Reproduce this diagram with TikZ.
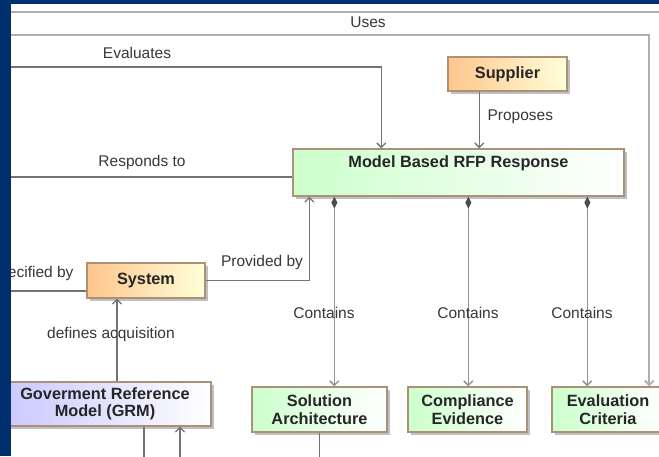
\documentclass[tikz,border=0pt]{standalone}
\usepackage{fontspec}
\setmainfont{Liberation Sans}
\usetikzlibrary{arrows.meta,shadows,positioning}

\definecolor{framenavy}{RGB}{0,48,110}
\definecolor{boxedge}{RGB}{170,145,120}
\definecolor{linegray}{RGB}{115,115,115}
\definecolor{lightline}{RGB}{175,175,175}
\definecolor{txtgray}{RGB}{55,55,60}

\tikzset{
  block/.style={draw=boxedge, line width=1.3pt, align=center, inner sep=2pt,
    text=black!85, font=\fontsize{16.3}{17.5}\selectfont\bfseries,
    drop shadow={shadow xshift=2.5pt, shadow yshift=-2.5pt, fill=black!35, opacity=0.7}},
  actorbox/.style={block, left color=orange!45, right color=yellow!15},
  greenbox/.style={block, left color=green!20, right color=white},
  bluebox/.style={block, left color=blue!22, right color=white},
  lbl/.style={text=txtgray, font=\fontsize{15.5}{18}\selectfont},
  plain/.style={draw=linegray, line width=1.3pt},
  conn/.style={plain, -{Straight Barb[length=4.5pt,width=9pt]}},
  comp/.style={draw=lightline!85!black, line width=1.5pt,
    {Diamond[length=12pt,width=6pt,fill=black!70,color=black!70]}-{Straight Barb[length=4.5pt,width=9pt]}},
}

\begin{document}
\begin{tikzpicture}[x=1pt,y=-1pt]
  \clip (0,0) rectangle (659,456);
  \fill[white] (0,0) rectangle (659,456);

  % blocks
  \node[actorbox, minimum width=119pt, minimum height=34pt] (supplier) at (507.5,74) {Supplier};
  \node[greenbox, minimum width=331pt, minimum height=47pt, inner ysep=3pt,
        text height=15.7pt, text depth=25.3pt] (rfp) at (458.5,172.5) {Model Based RFP Response};
  \node[actorbox, minimum width=118pt, minimum height=35pt] (system) at (146,280.5) {System};
  \node[bluebox, minimum width=212pt, minimum height=44pt] (grm) at (105,404) {Goverment Reference\\Model (GRM)};
  \node[greenbox, minimum width=135pt, minimum height=45pt] (solarch) at (319.5,409.5) {Solution\\Architecture};
  \node[greenbox, minimum width=119pt, minimum height=45pt] (compev) at (467.5,409.5) {Compliance\\Evidence};
  \node[greenbox, minimum width=112pt, minimum height=45pt] (evalcrit) at (608,409.5) {Evaluation\\Criteria};

  % loose ends outside the view
  \coordinate (topsrc) at (11,12);
  \coordinate (topend) at (659,12);
  \coordinate (usessrc) at (11,35);
  \coordinate (evalsrc) at (11,67);
  \coordinate (respsrc) at (11,177);
  \coordinate (specsrc) at (11,291);
  \coordinate (grmout) at (144,460);
  \coordinate (grmin) at (180,460);
  \coordinate (solout) at (319.5,460);

  % connectors
  \draw[plain, draw=lightline, line width=1.8pt] (topsrc) -- (topend);
  \draw[conn, draw=lightline, line width=1.8pt] (usessrc) -| ([xshift=98pt]evalcrit.north west);
  \draw[conn] (evalsrc) -| ([xshift=89pt]rfp.north west);
  \draw[conn] ([xshift=32pt]supplier.south west) coordinate (prop) -- (prop |- rfp.north);
  \draw[plain] (respsrc) -- (respsrc -| rfp.west);
  \draw[conn] (system.east) -| ([xshift=17pt]rfp.south west);
  \draw[plain] (specsrc) -- (specsrc -| system.west);
  \draw[conn] ([xshift=12pt]grm.north) coordinate (defs) -- (defs |- system.south);
  \draw[plain] ([xshift=39pt]grm.south) -- (grmout);
  \draw[conn] (grmin) -- (grmin |- grm.south);
  \draw[plain] (solarch.south) -- (solout);
  \draw[comp] ([xshift=42pt]rfp.south west) coordinate (c1) -- (c1 |- solarch.north);
  \draw[comp] ([xshift=176pt]rfp.south west) coordinate (c2) -- (c2 |- compev.north);
  \draw[comp] ([xshift=295pt]rfp.south west) coordinate (c3) -- (c3 |- evalcrit.north);

  % labels
  \node[lbl] (useslbl) at (368,22) {Uses};
  \node[lbl] (evallbl) at (137,53) {Evaluates};
  \node[lbl, anchor=west] (proplbl) at (484,117) {Proposes};
  \node[lbl] (resplbl) at (142,162) {Responds to};
  \node[lbl] (provlbl) at (262,262) {Provided by};
  \node[lbl, anchor=east] (speclbl) at (77,273) {Specified by};
  \node[lbl] (defslbl) at (111,334) {defines acquisition};
  \node[lbl] (cont1) at (324,313) {Contains};
  \node[lbl] (cont2) at (468,313) {Contains};
  \node[lbl] (cont3) at (582,313) {Contains};

  % frame
  \fill[framenavy] (0,0) rectangle (11,456);
  \fill[framenavy] (0,0) rectangle (659,4);
\end{tikzpicture}
\end{document}
